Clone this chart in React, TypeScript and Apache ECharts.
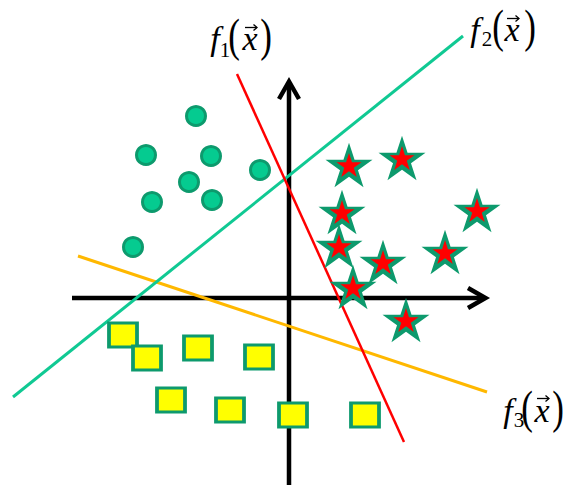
import React, { useEffect, useRef } from "react";
import * as echarts from "echarts";

// Coordinates are in a plane whose origin is where the two axes cross.
const CLASS_A_POINTS: [number, number][] = [
  [-93, 182], [-143, 143], [-78, 142], [-100, 116],
  [-137, 96], [-77, 98], [-29, 128], [-156, 51],
];
const CLASS_B_POINTS: [number, number][] = [
  [60, 133], [113, 140], [53, 86], [188, 88], [50, 52],
  [94, 36], [156, 46], [64, 11], [117, -22],
];
const CLASS_C_POINTS: [number, number][] = [
  [-166, -37], [-142, -60], [-91, -50], [-30, -59],
  [-118, -102], [-59, -112], [4, -117], [76, -117],
];

// Decision boundaries f1, f2, f3 (two end points each)
const F1_LINE: [number, number][] = [[-52, 224], [115, -144]];
const F2_LINE: [number, number][] = [[-276, -99], [174, 262]];
const F3_LINE: [number, number][] = [[-211, 42], [198, -94]];

// Feature axes: [x1, y1, x2 (arrow tip), y2]
const AXES: [number, number, number, number][] = [
  [-217, 0, 198, 0],
  [0, -190, 0, 218],
];

const X_RANGE = [-289, 277];
const Y_RANGE = [-187, 298];

const STAR_PATH =
  "path://M50 0 L61.23 34.55 L97.55 34.55 L68.16 55.9 L79.39 90.45 L50 69.1 L20.61 90.45 L31.84 55.9 L2.45 34.55 L38.77 34.55 Z";

const DARK_GREEN = "#0d9a6d";
const LIGHT_GREEN = "#05cb90";

const SERIF = '"Liberation Serif", "Times New Roman", serif';

type Piece = { t: string; x: number; y: number; size: number; lh: number; italic?: boolean; sy?: number };

// f_k(x) label: glyph centres for f, subscript, "(", x, vector arrow, ")"
function labelGraphic(sub: string, p: number[][]) {
  const pieces: Piece[] = [
    { t: "f", x: p[0][0], y: p[0][1], size: 34, lh: 28, italic: true },
    { t: sub, x: p[1][0], y: p[1][1], size: 21, lh: 14 },
    { t: "(", x: p[2][0], y: p[2][1], size: 35, lh: 28, sy: 1.33 },
    { t: "x", x: p[3][0], y: p[3][1], size: 34, lh: 16, italic: true },
    { t: ")", x: p[5][0], y: p[5][1], size: 35, lh: 28, sy: 1.33 },
  ];
  const [ax, ay] = p[4];
  const arrowStyle = { stroke: "#000", lineWidth: 1.3, fill: "none" };
  return {
    type: "group",
    children: [
      ...pieces.map((pc) => ({
        type: "text",
        x: pc.x,
        y: pc.y,
        scaleY: pc.sy ?? 1,
        style: {
          text: pc.t,
          fontFamily: SERIF,
          fontSize: pc.size,
          lineHeight: pc.lh,
          fontStyle: pc.italic ? "italic" : "normal",
          fill: "#000",
          align: "center",
          verticalAlign: "middle",
        },
      })),
      {
        type: "line",
        shape: { x1: ax - 6, y1: ay, x2: ax + 6, y2: ay },
        style: arrowStyle,
      },
      {
        type: "polyline",
        shape: { points: [[ax + 2.5, ay - 3], [ax + 6, ay], [ax + 2.5, ay + 3]] },
        style: arrowStyle,
      },
    ],
  };
}

export default function App() {
  const ref = useRef<HTMLDivElement>(null);

  useEffect(() => {
    if (!ref.current) return;
    const chart = echarts.init(ref.current, null, { renderer: "svg" });

    const lineSeries = (data: [number, number][], color: string, width: number) => ({
      type: "line",
      data,
      symbol: "none",
      silent: true,
      lineStyle: { color, width },
      z: 3,
    });

    chart.setOption({
      animation: false,
      grid: { left: 0, right: 0, top: 0, bottom: 0 },
      xAxis: { type: "value", min: X_RANGE[0], max: X_RANGE[1], show: false },
      yAxis: { type: "value", min: Y_RANGE[0], max: Y_RANGE[1], show: false },
      series: [
        {
          type: "custom",
          data: AXES,
          z: 2,
          silent: true,
          renderItem: (params: any, api: any) => {
            const a = api.coord([api.value(0), api.value(1)]);
            const b = api.coord([api.value(2), api.value(3)]);
            const dx = b[0] - a[0];
            const dy = b[1] - a[1];
            const len = Math.hypot(dx, dy);
            const ux = dx / len;
            const uy = dy / len;
            const nx = -uy;
            const ny = ux;
            const L = 19;
            const W = 10;
            const style = { stroke: "#000", lineWidth: 4.5, fill: "none", lineJoin: "miter" };
            return {
              type: "group",
              children: [
                {
                  type: "line",
                  shape: { x1: a[0], y1: a[1], x2: b[0] - ux * 2, y2: b[1] - uy * 2 },
                  style,
                },
                {
                  type: "polyline",
                  shape: {
                    points: [
                      [b[0] - ux * L + nx * W, b[1] - uy * L + ny * W],
                      [b[0] - ux * 1.5, b[1] - uy * 1.5],
                      [b[0] - ux * L - nx * W, b[1] - uy * L - ny * W],
                    ],
                  },
                  style,
                },
              ],
            };
          },
        },
        lineSeries(F3_LINE, "#ffb800", 3),
        lineSeries(F2_LINE, "#10c993", 3),
        lineSeries(F1_LINE, "#ff0000", 2.5),
        {
          type: "scatter",
          data: CLASS_A_POINTS,
          symbol: "circle",
          symbolSize: 19,
          z: 4,
          itemStyle: { color: LIGHT_GREEN, borderColor: DARK_GREEN, borderWidth: 3, opacity: 1 },
        },
        {
          type: "scatter",
          data: CLASS_C_POINTS,
          symbol: "rect",
          symbolSize: [28, 24],
          z: 4,
          itemStyle: { color: "#ffff00", borderColor: DARK_GREEN, borderWidth: 3.5, opacity: 1 },
        },
        {
          type: "scatter",
          data: CLASS_B_POINTS,
          symbol: STAR_PATH,
          symbolKeepAspect: true,
          symbolSize: 47,
          z: 4,
          itemStyle: { color: DARK_GREEN, opacity: 1 },
        },
        {
          type: "scatter",
          data: CLASS_B_POINTS,
          symbol: STAR_PATH,
          symbolKeepAspect: true,
          symbolSize: 25,
          z: 5,
          itemStyle: { color: "#ff0000", opacity: 1 },
        },
      ],
      graphic: [
        labelGraphic("1", [[215, 38.5], [225, 50], [234, 35], [250, 38.5], [251, 27.5], [266, 35]]),
        labelGraphic("2", [[475, 29], [487, 38.5], [498, 26], [512, 29], [513, 18.5], [530, 26]]),
        labelGraphic("3", [[508, 410.5], [519, 420], [527, 407], [542, 410.5], [543, 398.5], [558, 407]]),
      ],
    });

    return () => chart.dispose();
  }, []);

  return (
    <div
      ref={ref}
      style={{ position: "absolute", left: 0, top: 0, width: 566, height: 485, background: "#fff" }}
    />
  );
}
